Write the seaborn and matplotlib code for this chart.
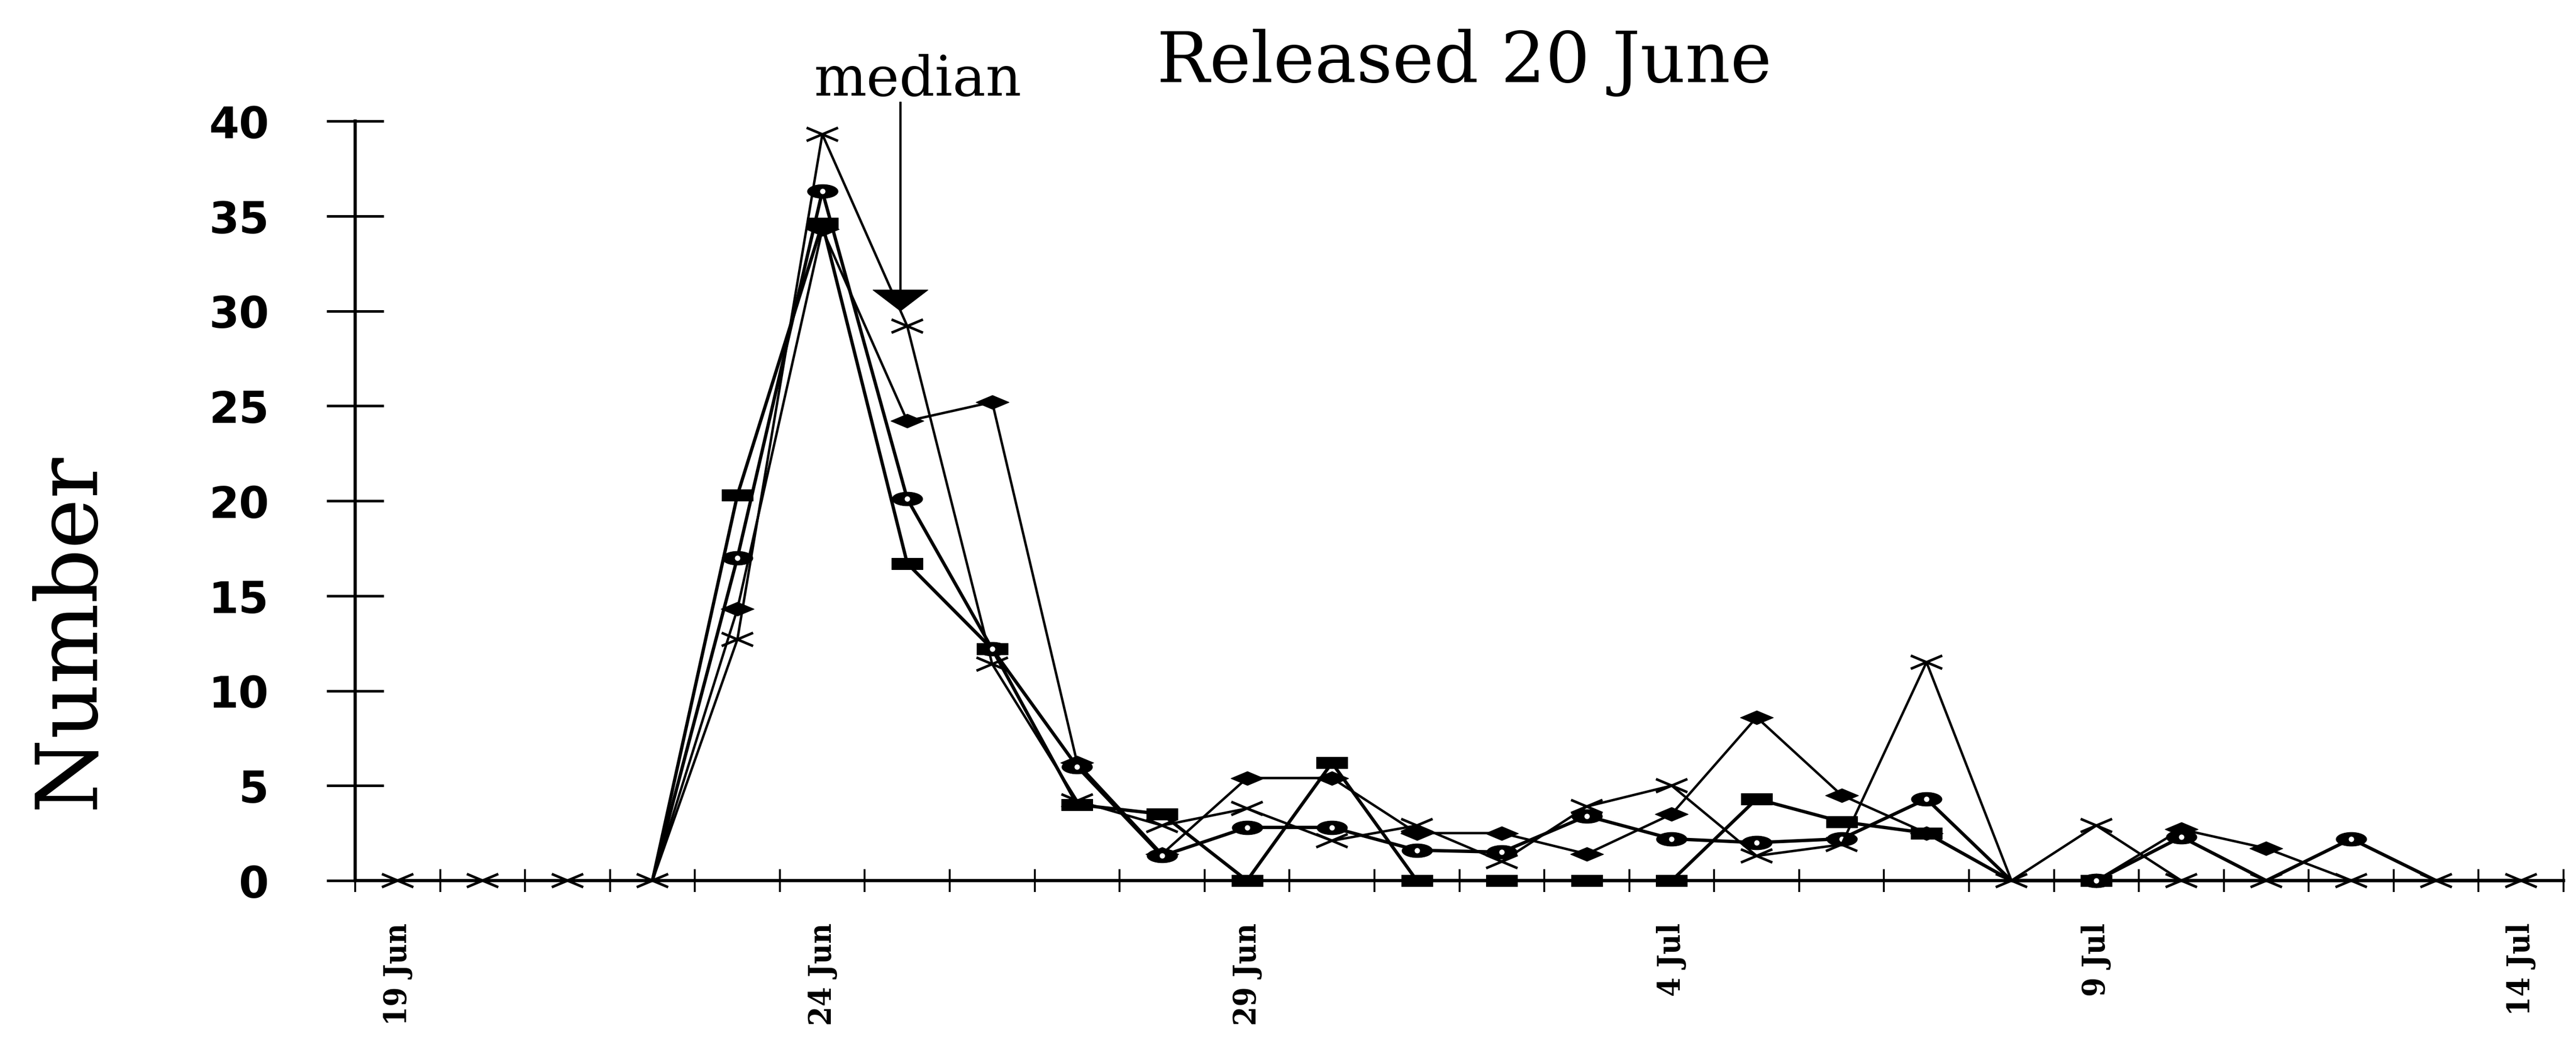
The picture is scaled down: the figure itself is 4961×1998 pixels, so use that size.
import numpy as np
import matplotlib
matplotlib.use("Agg")
import matplotlib.pyplot as plt
from matplotlib.path import Path
import seaborn as sns

# ---------------- data ----------------
days = list(range(26))                      # 19 Jun ... 14 Jul
label_days = [0, 5, 10, 15, 20, 25]
tick_labels = ["19 Jun", "24 Jun", "29 Jun", "4 Jul", "9 Jul", "14 Jul"]
y_ticks = [0, 5, 10, 15, 20, 25, 30, 35, 40]

nan = np.nan
cross_vals = [0, 0, 0, 0, 12.7, 39.3, 29.2, 11.4, 4.2, 2.9, 3.8, 2.1, 2.9, 1.0,
              3.9, 5.0, 1.3, 1.9, 11.5, 0, 2.9, 0, 0, 0, 0, 0]
bar_vals = [nan, nan, nan, 0, 20.3, 34.6, 16.7, 12.2, 4.0, 3.5, 0, 6.2, 0, 0,
            0, 0, 4.3, 3.1, 2.5, 0, 0, 0, 0, 0, 0, 0]
diamond_vals = [nan, nan, nan, 0, 14.3, 34.3, 24.2, 25.2, 6.2, 1.4, 5.4, 5.4, 2.5, 2.5,
                1.4, 3.5, 8.6, 4.5, 2.5, 0, 0, 2.7, 1.7, 0, 0, 0]
oval_vals = [nan, nan, nan, 0, 17.0, 36.3, 20.1, 12.2, 6.0, 1.3, 2.8, 2.8, 1.6, 1.5,
             3.4, 2.2, 2.0, 2.2, 4.3, 0, 0, 2.3, 0, 2.2, 0, 0]

median_day = 5.92
median_level = 30.0
median_top = 41.0

title_text = "Released 20 June"
ylabel_text = "Number"
median_text = "median"

# ---------------- style ----------------
sns.set_style("white")
plt.rcParams["font.family"] = ["DejaVu Serif", "DejaVu Sans"]
plt.rcParams["text.color"] = "black"
plt.rcParams["xtick.color"] = "black"
plt.rcParams["ytick.color"] = "black"

W, H = 4961, 1999
fig = plt.figure(figsize=(W / 100, H / 100), dpi=100)
fig.patch.set_facecolor("white")

x0, x1 = 684, 4937
y0, y1 = 1696, 234
ax = fig.add_axes([x0 / W, 1 - y0 / H, (x1 - x0) / W, (y0 - y1) / H])
ax.set_facecolor("white")

# custom marker shapes
cross_marker = Path([(-1, -0.42), (1, 0.42), (-1, 0.42), (1, -0.42)],
                    [Path.MOVETO, Path.LINETO, Path.MOVETO, Path.LINETO])
rect_marker = Path([(-1, -0.38), (1, -0.38), (1, 0.38), (-1, 0.38), (-1, -0.38)], closed=True)
diamond_marker = Path([(-1, 0), (0, 0.42), (1, 0), (0, -0.42), (-1, 0)], closed=True)
_c = Path.unit_circle()
oval_marker = Path(_c.vertices * np.array([1.0, 0.45]), _c.codes)


def marker_points(vals):
    xs, ys = [], []
    for d, v, c in zip(days, vals, cross_vals):
        if np.isnan(v):
            continue
        if v == 0 and c == 0:
            continue
        xs.append(d)
        ys.append(v)
    return xs, ys


series = [
    (bar_vals, rect_marker, 1850, 4.6),
    (diamond_vals, diamond_marker, 2100, 3.4),
    (oval_vals, oval_marker, 1800, 4.6),
]

for vals, mk, s, lw in series:
    sns.lineplot(x=days, y=vals, ax=ax, color="black", lw=lw, estimator=None,
                 errorbar=None, clip_on=False, zorder=2)
    mx, my = marker_points(vals)
    sns.scatterplot(x=mx, y=my, ax=ax, marker=mk, s=s, color="black",
                    facecolor="black", edgecolor="black", linewidth=0.8,
                    clip_on=False, zorder=3)

# white centre detail of the oval markers
mx, my = marker_points(oval_vals)
sns.scatterplot(x=mx, y=my, ax=ax, marker="o", s=55, color="white",
                facecolor="white", edgecolor="white", linewidth=0,
                clip_on=False, zorder=3.5)

# the x series (drawn on top)
sns.lineplot(x=days, y=cross_vals, ax=ax, color="black", lw=3.4, estimator=None,
             errorbar=None, clip_on=False, zorder=4)
sns.scatterplot(x=days, y=cross_vals, ax=ax, marker=cross_marker, s=1900,
                color="black", facecolor="none", edgecolor="black", linewidth=3.6,
                clip_on=False, zorder=5)

# ---------------- axes ----------------
ax.set_xlim(-0.5, 25.5)
ax.set_ylim(0, 40)
for side in ["top", "right"]:
    ax.spines[side].set_visible(False)
for side in ["left", "bottom"]:
    ax.spines[side].set_color("black")
    ax.spines[side].set_linewidth(4.5)

major_x = np.arange(-0.5, 25.6, 1.0)
ax.set_xticks(major_x)
ax.set_xticklabels([""] * len(major_x))
ax.tick_params(axis="x", which="major", bottom=True, direction="inout", length=32,
               width=2.6, color="black")
ax.set_xticks(label_days, minor=True)
ax.set_xticklabels(tick_labels, minor=True, rotation=90, fontsize=43,
                   fontweight="bold", family=["DejaVu Serif"], fontstretch="condensed",
                   color="black")
ax.tick_params(axis="x", which="minor", bottom=True, length=0, pad=58)

ax.set_yticks(y_ticks)
ax.set_yticklabels([str(v) for v in y_ticks], fontsize=60, fontweight="bold",
                   family=["DejaVu Sans"], color="black")
ax.tick_params(axis="y", left=True, direction="inout", length=79, width=3.6, pad=80,
               color="black")
ax.set_xlabel("")
ax.set_ylabel("")

# median arrow
ax.annotate("", xy=(median_day, median_level), xytext=(median_day, median_top),
            arrowprops=dict(facecolor="black", edgecolor="black", width=2.2,
                            headwidth=76, headlength=29, shrink=0),
            annotation_clip=False)

# texts
fig.text(2820 / W, 1 - 158 / H, title_text, ha="center", va="baseline",
         fontsize=97, family=["DejaVu Serif"], color="black")
fig.text(1767 / W, 1 - 184 / H, median_text, ha="center", va="baseline",
         fontsize=77, family=["DejaVu Serif"], color="black")
fig.text(135 / W, 1 - 1215 / H, ylabel_text, ha="center", va="center",
         rotation=90, fontsize=118, family=["DejaVu Serif"], color="black")

fig.savefig("out.png", dpi=100, facecolor="white")
